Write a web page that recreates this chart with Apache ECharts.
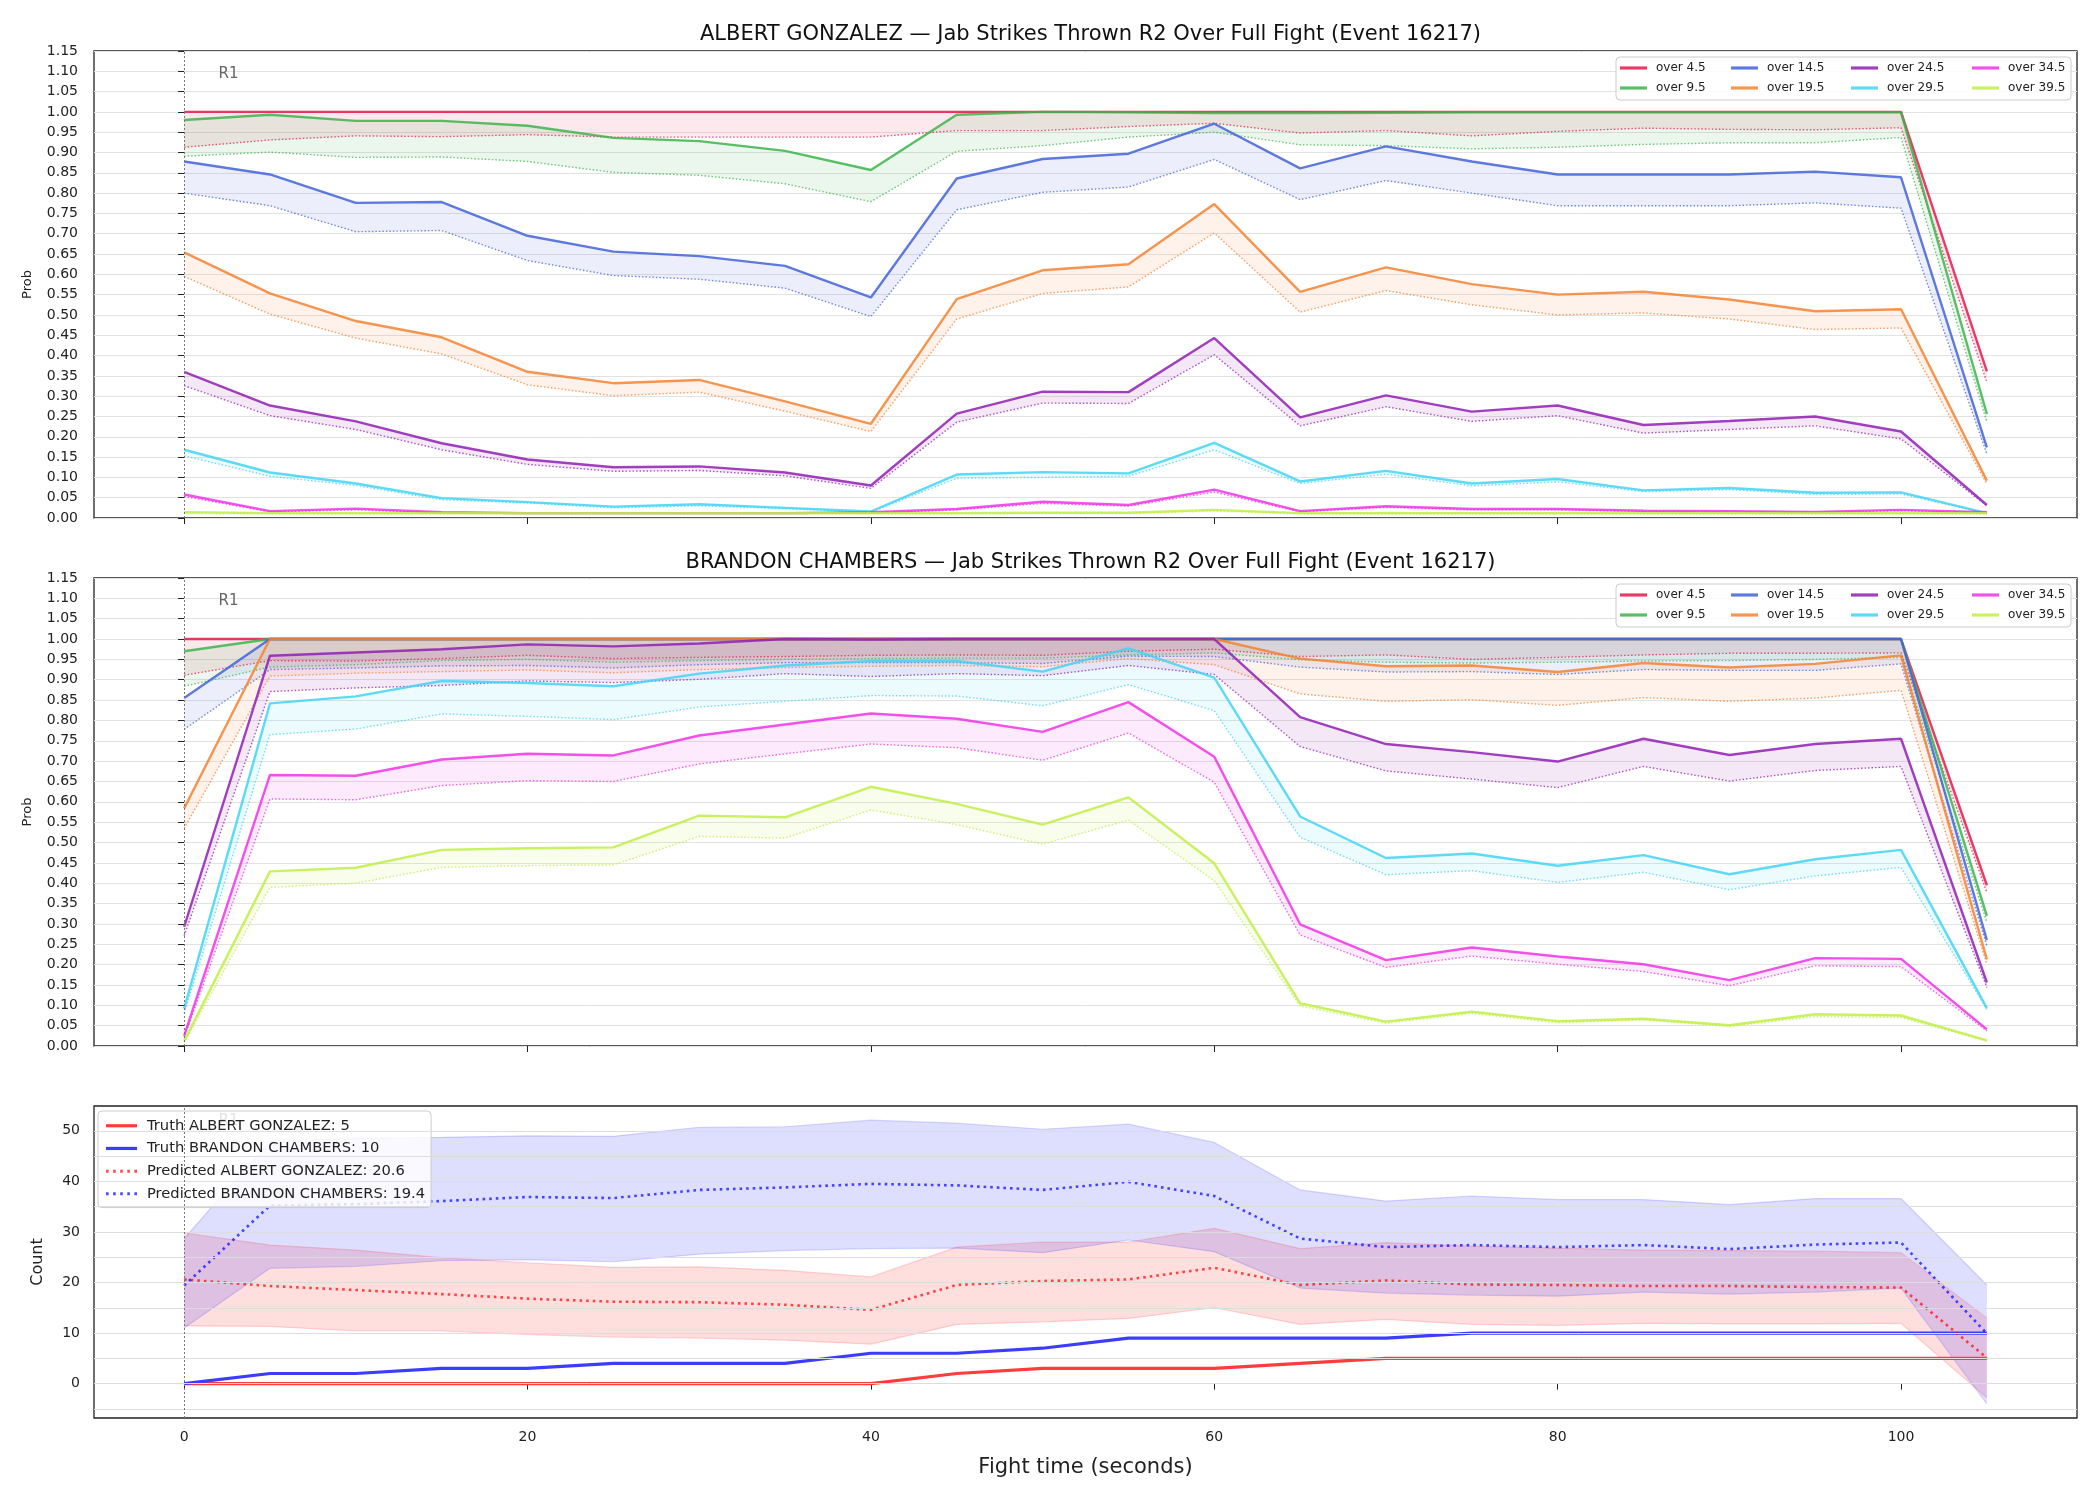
<!DOCTYPE html>
<html><head><meta charset="utf-8">
<script src="https://cdn.jsdelivr.net/npm/echarts@6/dist/echarts.min.js"></script>
<style>html,body{margin:0;padding:0;background:#fff}#chart{width:2100px;height:1500px}</style>
</head><body><div id="chart"></div>
<script>
// ---------------- DATA ----------------
const times = [0,5,10,15,20,25,30,35,40,45,50,55,60,65,70,75,80,85,90,95,100,105];
const thresholdNames = ['over 4.5','over 9.5','over 14.5','over 19.5','over 24.5','over 29.5','over 34.5','over 39.5'];
const xTickValues = [0,20,40,60,80,100];
const probTitles = ['ALBERT GONZALEZ — Jab Strikes Thrown R2 Over Full Fight (Event 16217)',
                    'BRANDON CHAMBERS — Jab Strikes Thrown R2 Over Full Fight (Event 16217)'];

// ALBERT GONZALEZ: solid (market) and dotted (predicted)
const gonzalezOver4_5  = [1,1,1,1,1,1,1,1,1,1,1,1,1,1,1,1,1,1,1,1,1,0.361];
const gonzalezPred4_5  = [0.913,0.931,0.941,0.939,0.944,0.938,0.938,0.938,0.938,0.954,0.954,0.964,0.972,0.948,0.954,0.941,0.952,0.960,0.957,0.956,0.961,0.334];
const gonzalezOver9_5  = [0.980,0.993,0.978,0.978,0.966,0.936,0.928,0.904,0.857,0.993,1.0,0.999,0.997,0.997,0.998,0.999,0.999,0.999,0.999,0.999,0.999,0.256];
const gonzalezPred9_5  = [0.891,0.901,0.888,0.889,0.878,0.851,0.844,0.823,0.779,0.903,0.917,0.938,0.950,0.919,0.917,0.909,0.913,0.920,0.924,0.924,0.937,0.236];
const gonzalezOver14_5 = [0.878,0.846,0.776,0.778,0.695,0.656,0.645,0.621,0.543,0.836,0.884,0.897,0.971,0.861,0.915,0.878,0.846,0.846,0.846,0.853,0.839,0.174];
const gonzalezPred14_5 = [0.800,0.769,0.705,0.708,0.634,0.597,0.588,0.566,0.496,0.759,0.802,0.815,0.883,0.784,0.831,0.800,0.769,0.769,0.769,0.776,0.763,0.158];
const gonzalezOver19_5 = [0.654,0.553,0.485,0.445,0.360,0.332,0.340,0.287,0.232,0.539,0.610,0.625,0.773,0.557,0.617,0.576,0.550,0.557,0.538,0.509,0.514,0.092];
const gonzalezPred19_5 = [0.595,0.502,0.443,0.404,0.328,0.301,0.310,0.263,0.213,0.490,0.553,0.569,0.702,0.507,0.560,0.525,0.500,0.505,0.490,0.464,0.468,0.084];
const gonzalezOver24_5 = [0.360,0.277,0.238,0.184,0.144,0.125,0.127,0.112,0.080,0.257,0.311,0.310,0.443,0.248,0.302,0.262,0.277,0.229,0.239,0.250,0.213,0.032];
const gonzalezPred24_5 = [0.326,0.252,0.218,0.168,0.132,0.115,0.117,0.104,0.073,0.236,0.283,0.282,0.402,0.227,0.274,0.238,0.252,0.209,0.218,0.227,0.195,0.030];
const gonzalezOver29_5 = [0.168,0.112,0.085,0.049,0.039,0.028,0.034,0.025,0.016,0.107,0.113,0.110,0.185,0.090,0.116,0.085,0.096,0.068,0.074,0.062,0.063,0.012];
const gonzalezPred29_5 = [0.153,0.103,0.080,0.045,0.037,0.025,0.030,0.023,0.014,0.098,0.100,0.103,0.168,0.085,0.108,0.079,0.089,0.065,0.070,0.058,0.059,0.011];
const gonzalezOver34_5 = [0.058,0.017,0.023,0.014,0.012,0.012,0.012,0.012,0.014,0.022,0.040,0.032,0.070,0.017,0.029,0.022,0.022,0.018,0.017,0.015,0.020,0.014];
const gonzalezPred34_5 = [0.053,0.015,0.020,0.012,0.011,0.011,0.011,0.011,0.012,0.020,0.036,0.029,0.064,0.015,0.026,0.020,0.020,0.016,0.015,0.014,0.018,0.013];
const gonzalezOver39_5 = [0.014,0.012,0.012,0.012,0.012,0.012,0.012,0.012,0.012,0.012,0.013,0.013,0.020,0.012,0.012,0.012,0.012,0.012,0.012,0.012,0.012,0.012];
const gonzalezPred39_5 = [0.011,0.010,0.010,0.010,0.010,0.010,0.010,0.010,0.010,0.010,0.011,0.011,0.017,0.010,0.010,0.010,0.010,0.010,0.010,0.010,0.010,0.010];

// BRANDON CHAMBERS
const chambersOver4_5  = [1,1,1,1,1,1,1,1,1,1,1,1,1,1,1,1,1,1,1,1,1,0.395];
const chambersPred4_5  = [0.911,0.947,0.946,0.952,0.960,0.952,0.955,0.957,0.960,0.961,0.960,0.970,0.975,0.957,0.961,0.950,0.955,0.961,0.965,0.965,0.966,0.377];
const chambersOver9_5  = [0.970,1,1,1,1,1,1,1,1,1,1,1,1,1,1,1,1,1,1,1,1,0.320];
const chambersPred9_5  = [0.884,0.931,0.937,0.947,0.950,0.943,0.947,0.950,0.952,0.953,0.953,0.961,0.966,0.949,0.943,0.941,0.943,0.946,0.947,0.950,0.955,0.304];
const chambersOver14_5 = [0.855,1,1,1,1,1,1,1,1,1,1,1,1,1,1,1,1,1,1,1,1,0.260];
const chambersPred14_5 = [0.778,0.925,0.929,0.934,0.935,0.929,0.937,0.942,0.942,0.942,0.940,0.958,0.957,0.931,0.919,0.920,0.913,0.925,0.923,0.923,0.939,0.246];
const chambersOver19_5 = [0.584,1,1,1,1,1,1,1,1,1,1,1,1,0.952,0.933,0.935,0.919,0.941,0.930,0.939,0.960,0.213];
const chambersPred19_5 = [0.535,0.909,0.916,0.920,0.924,0.917,0.925,0.930,0.933,0.935,0.932,0.952,0.937,0.865,0.847,0.851,0.837,0.856,0.847,0.855,0.874,0.201];
const chambersOver24_5 = [0.293,0.959,0.967,0.975,0.987,0.982,0.989,1.0,0.999,1.0,1.0,1.0,1.0,0.808,0.742,0.722,0.699,0.755,0.715,0.742,0.755,0.156];
const chambersPred24_5 = [0.271,0.871,0.880,0.886,0.897,0.893,0.901,0.915,0.908,0.915,0.910,0.935,0.913,0.736,0.676,0.656,0.635,0.687,0.651,0.677,0.687,0.144];
const chambersOver29_5 = [0.092,0.842,0.859,0.897,0.892,0.884,0.915,0.935,0.946,0.946,0.920,0.977,0.905,0.564,0.462,0.473,0.443,0.469,0.422,0.459,0.482,0.093];
const chambersPred29_5 = [0.080,0.765,0.779,0.816,0.810,0.802,0.833,0.847,0.861,0.860,0.836,0.888,0.824,0.513,0.421,0.431,0.402,0.427,0.384,0.418,0.439,0.090];
const chambersOver34_5 = [0.025,0.666,0.664,0.704,0.718,0.714,0.763,0.790,0.817,0.804,0.772,0.845,0.711,0.299,0.211,0.242,0.220,0.201,0.162,0.216,0.214,0.041];
const chambersPred34_5 = [0.020,0.607,0.605,0.640,0.652,0.650,0.693,0.718,0.742,0.733,0.702,0.769,0.648,0.273,0.193,0.221,0.201,0.183,0.148,0.197,0.195,0.037];
const chambersOver39_5 = [0.012,0.429,0.438,0.482,0.486,0.488,0.566,0.562,0.637,0.595,0.544,0.611,0.449,0.105,0.060,0.084,0.061,0.067,0.051,0.078,0.075,0.014];
const chambersPred39_5 = [0.008,0.390,0.400,0.439,0.443,0.445,0.515,0.511,0.580,0.544,0.496,0.555,0.406,0.098,0.056,0.080,0.057,0.064,0.048,0.072,0.070,0.012];

// Count panel
const truthGonzalez = [0,0,0,0,0,0,0,0,0,2,3,3,3,4,5,5,5,5,5,5,5,5];
const truthChambers = [0,2,2,3,3,4,4,4,6,6,7,9,9,9,9,10,10,10,10,10,10,10];
const predGonzalez  = [20.6,19.3,18.5,17.7,16.8,16.2,16.1,15.6,14.6,19.5,20.3,20.6,22.9,19.5,20.4,19.6,19.5,19.3,19.3,19.1,19.0,5.1];
const gonzalezHigh  = [29.8,27.4,26.4,24.9,23.9,23.0,23.1,22.4,21.1,27.0,28.0,28.0,30.7,26.7,27.9,27.2,26.8,26.4,26.3,26.2,25.9,13.0];
const gonzalezLow   = [11.4,11.3,10.4,10.4,9.7,9.2,9.0,8.6,7.8,11.7,12.2,12.9,15.0,11.7,12.7,11.7,11.5,11.9,11.8,11.8,11.9,-2.8];
const predChambers  = [19.4,35.2,35.5,36.1,36.9,36.7,38.3,38.8,39.5,39.2,38.3,39.9,37.1,28.7,27.0,27.4,27.0,27.4,26.6,27.5,27.9,9.9];
const chambersHigh  = [28.7,48.0,48.5,48.7,49.0,48.9,50.7,50.8,52.1,51.5,50.3,51.3,47.7,38.3,36.1,37.1,36.4,36.4,35.4,36.6,36.6,19.5];
const chambersLow   = [11.0,22.8,23.2,24.3,24.5,24.1,25.6,26.3,26.7,26.8,25.9,28.4,26.1,18.9,17.9,17.5,17.3,18.1,17.7,18.1,18.9,-4.0];
const countLegendNames = ['Truth ALBERT GONZALEZ: 5','Truth BRANDON CHAMBERS: 10','Predicted ALBERT GONZALEZ: 20.6','Predicted BRANDON CHAMBERS: 19.4'];
const countGridValues = [-5,0,5,10,15,20,25,30,35,40,45,50];
const countTickValues = [0,10,20,30,40,50];

// ---------------- STYLE / BUILD ----------------
const palette = ['#e6194B','#3cb44b','#4363d8','#f58231','#911eb4','#42d4f4','#f032e6','#bfef45'];
const FONT = 'DejaVu Sans';
const gonzalezSolid = [gonzalezOver4_5,gonzalezOver9_5,gonzalezOver14_5,gonzalezOver19_5,gonzalezOver24_5,gonzalezOver29_5,gonzalezOver34_5,gonzalezOver39_5];
const gonzalezPred  = [gonzalezPred4_5,gonzalezPred9_5,gonzalezPred14_5,gonzalezPred19_5,gonzalezPred24_5,gonzalezPred29_5,gonzalezPred34_5,gonzalezPred39_5];
const chambersSolid = [chambersOver4_5,chambersOver9_5,chambersOver14_5,chambersOver19_5,chambersOver24_5,chambersOver29_5,chambersOver34_5,chambersOver39_5];
const chambersPred  = [chambersPred4_5,chambersPred9_5,chambersPred14_5,chambersPred19_5,chambersPred24_5,chambersPred29_5,chambersPred34_5,chambersPred39_5];

const pairs = arr => arr.map((v,i) => [times[i], v]);
const series = [];

// filled band between two value lists, drawn as one polygon through the axis scales
function band(gi, a, b, color, opacity) {
  series.push({type:'custom', xAxisIndex:gi, yAxisIndex:gi, silent:true, z:2, clip:true,
    data: times.map((t,k) => [t, a[k], b[k]]),
    encode:{x:0, y:[1,2]},
    renderItem:(params, api) => {
      if (params.dataIndex !== 0) return null;
      const up = times.map((t,k) => api.coord([t, a[k]]));
      const dn = times.map((t,k) => api.coord([t, b[k]])).reverse();
      return {type:'polygon', shape:{points: up.concat(dn)}, style:{fill:color, opacity:opacity, stroke:null}};
    }
  });
}

function r1Marker(gi, yPos, labelColor) {
  series.push({type:'line', name:'_r1_'+gi, xAxisIndex:gi, yAxisIndex:gi, data:[[0,yPos]], symbol:'none', lineStyle:{opacity:0}, silent:true,
    markLine:{silent:true, symbol:'none', animation:false, label:{show:false}, lineStyle:{color:'#777', type:[2,2], width:1}, data:[{xAxis:0}]},
    markPoint:{silent:true, symbol:'rect', symbolSize:1, itemStyle:{color:'rgba(0,0,0,0)'},
      label:{show:true, formatter:'R1', position:'right', distance:0, color:labelColor, fontSize:15, fontFamily:FONT},
      data:[{coord:[1.97, yPos]}]}});
}

function probPanel(gi, solids, preds) {
  r1Marker(gi, 1.094, '#666');
  solids.forEach((s, i) => {
    const p = preds[i];
    const col = palette[i];
    band(gi, s, p, col, 0.1);
    series.push({type:'line', name:thresholdNames[i], xAxisIndex:gi, yAxisIndex:gi, data:pairs(s), symbol:'none',
      lineStyle:{color:col, width:2.4, opacity:0.85}, itemStyle:{color:col}, z:3});
    series.push({type:'line', name:'pred '+thresholdNames[i], xAxisIndex:gi, yAxisIndex:gi, data:pairs(p), symbol:'none',
      lineStyle:{color:col, width:1.4, type:[1.5,2], opacity:0.75}, itemStyle:{color:col}, z:3});
  });
}
probPanel(0, gonzalezSolid, gonzalezPred);
probPanel(1, chambersSolid, chambersPred);

// Count panel
series.push({type:'line', name:'_grid2', xAxisIndex:2, yAxisIndex:2, data:[[0,0]], symbol:'none', lineStyle:{opacity:0}, silent:true, z:1,
  markLine:{silent:true, symbol:'none', animation:false, label:{show:false},
    lineStyle:{color:'#dddddd', type:'solid', width:1}, data:countGridValues.map(v => ({yAxis:v}))}});
r1Marker(2, 51.9, 'rgba(102,102,102,0.18)');
band(2, gonzalezHigh, gonzalezLow, 'rgb(255,0,0)', 0.13);
band(2, chambersHigh, chambersLow, 'rgb(0,0,255)', 0.13);
[[gonzalezHigh,'rgba(255,0,0,0.15)'],[gonzalezLow,'rgba(255,0,0,0.15)'],[chambersHigh,'rgba(0,0,255,0.15)'],[chambersLow,'rgba(0,0,255,0.15)']].forEach((e,k) => {
  series.push({type:'line', name:'_edge'+k, xAxisIndex:2, yAxisIndex:2, data:pairs(e[0]), symbol:'none', silent:true,
    lineStyle:{color:e[1], width:1.2}, z:2});
});
const countColors = ['#ff3c3c','#3c3cff','rgba(255,0,0,0.7)','rgba(0,0,255,0.7)'];
const countValues = [truthGonzalez, truthChambers, predGonzalez, predChambers];
countValues.forEach((vals, k) => {
  series.push({type:'line', name:countLegendNames[k], xAxisIndex:2, yAxisIndex:2, data:pairs(vals), symbol:'none',
    lineStyle: k < 2 ? {color:countColors[k], width:3.2} : {color:countColors[k], width:2.6, type:[2.6,4]},
    itemStyle:{color:countColors[k]}, z:3});
});

// grids
const grids = [
  {left:94, right:23, top:51, height:467},
  {left:94, right:23, top:578, height:468},
  {left:94, right:23, top:1106, height:312}
].map(g => Object.assign(g, {show:true, borderColor:'#222', borderWidth:1.3, backgroundColor:'rgba(0,0,0,0)', containLabel:false}));

const axisTxt = {fontFamily:FONT, fontSize:14, color:'#222'};
const xAxes = [0,1,2].map(i => ({
  type:'value', gridIndex:i, min:-5.25, max:110.25,
  axisLine:{show:false}, splitLine:{show:false},
  axisTick:{show:true, length:6, customValues:xTickValues, lineStyle:{color:'#222', width:1}},
  axisLabel:Object.assign({show:i===2, customValues:xTickValues, margin:12}, axisTxt),
  name: i===2 ? 'Fight time (seconds)' : '', nameLocation:'middle', nameGap:39,
  nameTextStyle:{fontFamily:FONT, fontSize:21, color:'#222'}
}));
const yAxes = [0,1].map(i => ({
  type:'value', gridIndex:i, min:0, max:1.15, interval:0.05,
  axisLine:{show:false},
  splitLine:{show:true, lineStyle:{color:'#e2e2e2', width:1}},
  axisTick:{show:true, length:6, lineStyle:{color:'#222'}},
  axisLabel:Object.assign({formatter:v => v.toFixed(2), margin:16}, axisTxt),
  name:'Prob', nameLocation:'middle', nameGap:60, nameTextStyle:{fontFamily:FONT, fontSize:13, color:'#222'}
}));
yAxes.push({
  type:'value', gridIndex:2, min:-6.8, max:54.9,
  axisLine:{show:false}, splitLine:{show:false},
  axisTick:{show:true, length:6, customValues:countTickValues, lineStyle:{color:'#222'}},
  axisLabel:Object.assign({customValues:countTickValues, margin:14}, axisTxt),
  name:'Count', nameLocation:'middle', nameGap:48, nameTextStyle:{fontFamily:FONT, fontSize:16, color:'#222'}
});

// legends
const legendCols = [[0,1],[2,3],[4,5],[6,7]];
const legendX = [1620, 1731, 1851, 1972];
const legends = [];
[61, 588].forEach(top => {
  legendCols.forEach((cols, c) => {
    legends.push({orient:'vertical', left:legendX[c], top:top, padding:0, itemGap:6, itemWidth:27, itemHeight:14,
      selectedMode:false,
      data:cols.map(k => ({name:thresholdNames[k], icon:'path://M0,0 L27,0 L27,3.2 L0,3.2 Z', itemStyle:{color:palette[k], opacity:0.85}})),
      textStyle:{fontFamily:FONT, fontSize:12, color:'#222', lineHeight:14, padding:[0,0,0,4]}});
  });
});
const solidIcon = 'path://M0,0 L31,0 L31,3.2 L0,3.2 Z';
const dotIcon = 'path://M0,0h2.6v3h-2.6z M7,0h2.6v3h-2.6z M14,0h2.6v3h-2.6z M21,0h2.6v3h-2.6z M28,0h2.6v3h-2.6z';
legends.push({orient:'vertical', left:98, top:1111, padding:[6,6,5,8], itemGap:5.2, itemWidth:31, itemHeight:17,
  selectedMode:false, backgroundColor:'rgba(255,255,255,0.82)', borderColor:'#cccccc', borderWidth:1, borderRadius:4,
  data:countLegendNames.map((n,k) => ({name:n, icon: k < 2 ? solidIcon : dotIcon, itemStyle:{color:countColors[k]}})),
  textStyle:{fontFamily:FONT, fontSize:14.7, color:'#222', lineHeight:17.5, padding:[0,0,0,5]}});

const option = {
  animation:false,
  backgroundColor:'#ffffff',
  title: probTitles.map((t,i) => ({text:t, left:1085.5, textAlign:'center', top: i===0 ? 19 : 547,
    textStyle:{fontFamily:FONT, fontSize:21, fontWeight:'normal', color:'#111'}})),
  grid: grids,
  xAxis: xAxes,
  yAxis: yAxes,
  legend: legends,
  graphic: [57, 584].map(y => ({type:'rect', shape:{x:1616, y:y, width:455, height:43, r:4}, z:3,
    style:{fill:'rgba(255,255,255,0.85)', stroke:'#cccccc', lineWidth:1}})),
  series: series
};
const chart = echarts.init(document.getElementById('chart'), null, {renderer:'canvas'});
chart.setOption(option);
</script>
</body></html>
